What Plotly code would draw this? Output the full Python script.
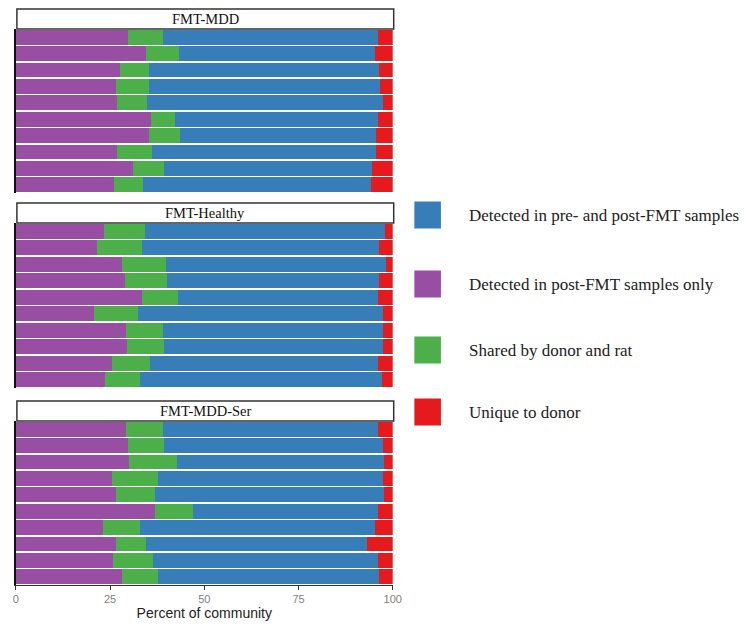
import plotly.graph_objects as go

# ---------------- data ----------------
samples = ["S1", "S2", "S3", "S4", "S5", "S6", "S7", "S8", "S9", "S10"]
groups = ["FMT-MDD", "FMT-Healthy", "FMT-MDD-Ser"]
categories = ["Detected in post-FMT samples only", "Shared by donor and rat",
              "Detected in pre- and post-FMT samples", "Unique to donor"]
legend_order = ["Detected in pre- and post-FMT samples", "Detected in post-FMT samples only",
                "Shared by donor and rat", "Unique to donor"]

mdd_post_only = [29.7, 34.6, 27.6, 26.5, 26.9, 35.9, 35.3, 26.8, 31.2, 25.9]
mdd_shared = [9.4, 8.8, 7.8, 8.9, 7.9, 6.4, 8.2, 9.2, 8.0, 7.9]
mdd_pre_post = [57.0, 51.8, 61.0, 61.1, 62.7, 53.8, 52.1, 59.6, 55.2, 60.4]
mdd_unique = [3.9, 4.8, 3.6, 3.5, 2.5, 3.9, 4.4, 4.4, 5.6, 5.8]

healthy_post_only = [23.5, 21.5, 28.1, 29.0, 33.5, 20.6, 29.1, 29.5, 25.5, 23.7]
healthy_shared = [10.8, 11.9, 11.6, 11.2, 9.5, 11.7, 9.9, 9.9, 10.0, 9.2]
healthy_pre_post = [63.6, 62.9, 58.4, 56.1, 53.2, 65.2, 58.5, 58.1, 60.5, 64.2]
healthy_unique = [2.1, 3.7, 1.9, 3.7, 3.8, 2.5, 2.5, 2.5, 4.0, 2.9]

ser_post_only = [29.1, 29.8, 30.1, 25.4, 26.5, 36.9, 23.1, 26.6, 25.7, 28.1]
ser_shared = [10.0, 9.4, 12.6, 12.4, 10.5, 10.0, 9.9, 7.8, 10.8, 9.5]
ser_pre_post = [57.1, 58.2, 55.1, 59.6, 60.6, 49.3, 62.3, 58.8, 59.7, 58.7]
ser_unique = [3.8, 2.6, 2.2, 2.6, 2.4, 3.8, 4.7, 6.8, 3.8, 3.7]

x_ticks = [0, 25, 50, 75, 100]

# ---------------- style ----------------
colors = {
    "Detected in pre- and post-FMT samples": "#377EB8",
    "Detected in post-FMT samples only": "#984EA3",
    "Shared by donor and rat": "#4DAF4A",
    "Unique to donor": "#E41A1C",
}
OFF = 8  # page body margin
W, H = 749 - OFF, 626 - OFF
serif = "Liberation Serif, Times New Roman, serif"
sans = "Liberation Sans, Arial, sans-serif"

panel_data = [
    [mdd_post_only, mdd_shared, mdd_pre_post, mdd_unique],
    [healthy_post_only, healthy_shared, healthy_pre_post, healthy_unique],
    [ser_post_only, ser_shared, ser_pre_post, ser_unique],
]
# page-pixel layout (top, bottom) for each panel plot area; strip above
panel_px = [(29, 193), (223, 388), (421, 585)]
strip_h = 20
x_left_px, x_right_px = 13, 396

def px(p):
    return (p - OFF) / W

def py(p):
    return 1 - (p - OFF) / H

fig = go.Figure()
shapes = []
annotations = []
for i, (grp, vals) in enumerate(zip(groups, panel_data)):
    ax = "" if i == 0 else str(i + 1)
    for cat, v in zip(categories, vals):
        fig.add_trace(go.Bar(
            x=v, y=samples, orientation="h", name=cat,
            marker=dict(color=colors[cat], line=dict(width=0)),
            xaxis="x" + ax, yaxis="y" + ax, showlegend=False,
        ))
    top, bot = panel_px[i]
    last = i == len(groups) - 1
    fig.layout["xaxis" + ax] = dict(
        domain=[px(x_left_px), px(x_right_px)], range=[0, 100],
        anchor="y" + ax, showgrid=False, zeroline=False,
        visible=last,
        tickvals=x_ticks, ticks="outside", ticklen=4, tickcolor="#333",
        showline=True, linecolor="#333", linewidth=1,
        tickfont=dict(family=sans, size=11, color="#7f7f7f"),
        title=dict(text="Percent of community", font=dict(family=sans, size=14, color="#222"),
                   standoff=2),
    )
    fig.layout["yaxis" + ax] = dict(
        domain=[py(bot), py(top)], anchor="x" + ax,
        categoryorder="array", categoryarray=samples,
        autorange="reversed", showticklabels=False, ticks="",
        showgrid=False, zeroline=False,
        showline=True, linecolor="#111", linewidth=1.5,
    )
    # strip title box
    shapes.append(dict(type="rect", xref="paper", yref="paper",
                       x0=px(x_left_px + 1), x1=px(x_right_px + 1),
                       y0=py(top), y1=py(top - strip_h),
                       line=dict(color="#333", width=1.5), fillcolor="white"))
    annotations.append(dict(text=grp, xref="paper", yref="paper",
                            x=px((x_left_px + x_right_px + 2) / 2),
                            y=py(top - strip_h / 2), showarrow=False,
                            xanchor="center", yanchor="middle",
                            font=dict(family=serif, size=14.5, color="#111")))

# manual legend with large keys
leg_centers = [215, 284, 350, 412]
for lab, cy in zip(legend_order, leg_centers):
    shapes.append(dict(type="rect", xref="paper", yref="paper",
                       x0=px(418), x1=px(445), y0=py(cy + 13.5), y1=py(cy - 13.5),
                       line=dict(width=0), fillcolor=colors[lab]))
    annotations.append(dict(text=lab, xref="paper", yref="paper",
                            x=px(472), y=py(cy), showarrow=False,
                            xanchor="left", yanchor="middle",
                            font=dict(family=serif, size=17, color="#222")))

fig.update_layout(
    width=W, height=H, barmode="stack", bargap=0.1,
    margin=dict(l=0, r=0, t=0, b=0),
    paper_bgcolor="white", plot_bgcolor="white",
    shapes=shapes, annotations=annotations,
)

fig.write_html("out.html")
